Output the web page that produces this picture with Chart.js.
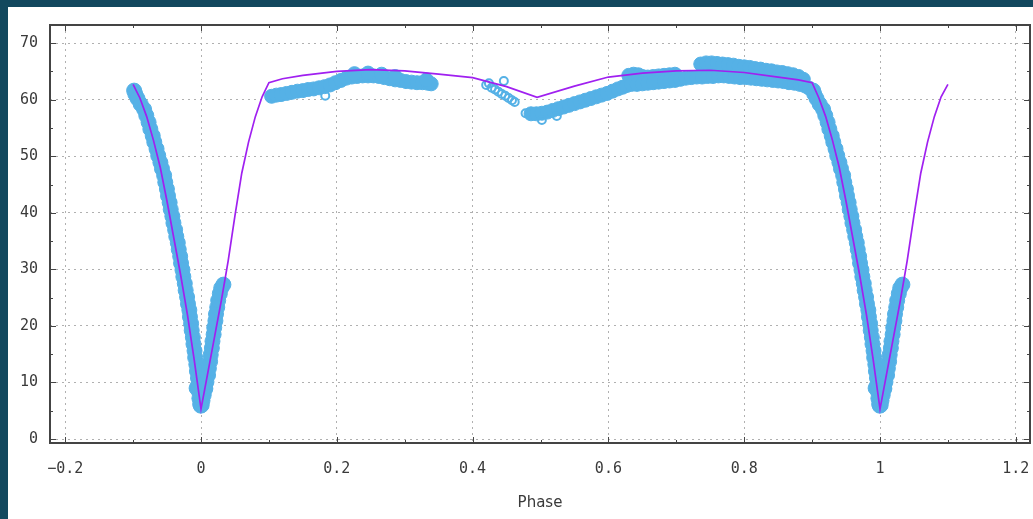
<!DOCTYPE html>
<html>
<head>
<meta charset="utf-8">
<title>Light curve</title>
<script src="https://cdn.jsdelivr.net/npm/chart.js@4.4.1/dist/chart.umd.min.js"></script>
<style>
  html, body { margin: 0; padding: 0; }
  body { width: 1033px; height: 519px; background: #12485e; position: relative; overflow: hidden; }
  #panel { position: absolute; left: 8px; top: 7px; right: 0; bottom: 0; background: #fff; }
  #lightCurve { position: absolute; left: 0; top: 0; }
</style>
</head>
<body>
<div id="panel"></div>
<canvas id="lightCurve" width="1033" height="519"></canvas>
<script>
// Axis ticks
const xTicks = [-0.2, 0, 0.2, 0.4, 0.6, 0.8, 1, 1.2];
const xLabels = ["\u22120.2", "0", "0.2", "0.4", "0.6", "0.8", "1", "1.2"];
const xMinor = [-0.1, 0.1, 0.3, 0.5, 0.7, 0.9, 1.1];
const yTicks = [0, 10, 20, 30, 40, 50, 60, 70];
const yMinor = [5, 15, 25, 35, 45, 55, 65];

// Observations around the primary minimum (folded, shown at phase 0 and again at phase 1)
const eclipsePhase = [-0.0985, -0.0968, -0.0935, -0.0888, -0.0838, -0.0806, -0.0772, -0.0746, -0.0711, -0.0688,
  -0.0655, -0.0630, -0.0598, -0.0575, -0.0543, -0.0526, -0.0502, -0.0486, -0.0462, -0.0446,
  -0.0422, -0.0406, -0.0381, -0.0364, -0.0342, -0.0328, -0.0307, -0.0294, -0.0273, -0.0260,
  -0.0239, -0.0226, -0.0205, -0.0192, -0.0172, -0.0163, -0.0146, -0.0137, -0.0120, -0.0111,
  -0.0095, -0.0086, -0.0069, -0.0060, -0.0045, -0.0041, -0.0029, -0.0024, -0.0012, -0.0004,
  -0.0065, 0.0060, 0.0010,
  0.0022, 0.0040, 0.0064, 0.0080, 0.0104, 0.0116, 0.0134, 0.0143, 0.0160, 0.0169,
  0.0186, 0.0195, 0.0212, 0.0221, 0.0239, 0.0253, 0.0277, 0.0298, 0.0330];
const eclipseMag = [61.6, 61.0, 60.2, 59.2, 58.3, 57.2, 56.0, 54.8, 53.6, 52.5,
  51.3, 50.1, 48.9, 47.8, 46.6, 45.4, 44.2, 43.0, 41.8, 40.6,
  39.4, 38.2, 37.0, 35.8, 34.7, 33.5, 32.3, 31.1, 29.9, 28.7,
  27.5, 26.3, 25.1, 23.9, 22.8, 21.6, 20.4, 19.2, 18.0, 16.8,
  15.6, 14.4, 13.2, 12.0, 10.8, 9.6, 8.4, 7.2, 6.2, 5.9,
  9.0, 9.2, 6.0,
  6.8, 7.8, 8.9, 10.1, 11.3, 12.5, 13.7, 14.9, 16.1, 17.3,
  18.5, 19.7, 20.9, 22.1, 23.3, 24.5, 25.7, 26.7, 27.3];

// Observations outside the eclipse (dense band)
const maxPhase = [0.104, 0.111, 0.118, 0.126, 0.134, 0.142, 0.150, 0.158, 0.166, 0.174,
  0.182, 0.190, 0.198, 0.206, 0.214, 0.222, 0.230, 0.238, 0.246, 0.254,
  0.262, 0.270, 0.278, 0.286, 0.294, 0.302, 0.310, 0.318, 0.326, 0.334, 0.339,
  0.226, 0.246, 0.266, 0.286, 0.332,
  0.486, 0.494, 0.502, 0.510, 0.518, 0.526, 0.534, 0.542, 0.550, 0.558,
  0.566, 0.574, 0.582, 0.590, 0.598, 0.606, 0.614, 0.621, 0.627,
  0.630, 0.637, 0.644, 0.650,
  0.658, 0.666, 0.674, 0.682, 0.690, 0.698,
  0.634, 0.642, 0.650, 0.658, 0.666, 0.674, 0.682, 0.690, 0.698, 0.706,
  0.714, 0.722, 0.730, 0.738, 0.746, 0.754, 0.762, 0.770, 0.778, 0.786,
  0.794, 0.802, 0.810, 0.818, 0.826, 0.834, 0.842, 0.850, 0.858, 0.866,
  0.874, 0.882, 0.890, 0.896,
  0.736, 0.744, 0.752, 0.760, 0.768, 0.776, 0.784, 0.792, 0.800, 0.808,
  0.816, 0.824, 0.832, 0.840, 0.848, 0.856, 0.864, 0.872, 0.880, 0.887];
const maxMag = [60.6, 60.8, 60.9, 61.1, 61.3, 61.5, 61.6, 61.8, 61.9, 62.1,
  62.3, 62.6, 63.0, 63.4, 63.8, 64.0, 64.1, 64.2, 64.2, 64.2,
  64.1, 63.9, 63.7, 63.5, 63.4, 63.2, 63.1, 63.0, 63.0, 62.9, 62.8,
  64.6, 64.7, 64.5, 64.1, 63.5,
  57.5, 57.5, 57.6, 57.8, 58.1, 58.4, 58.7, 59.0, 59.3, 59.6,
  59.9, 60.2, 60.5, 60.8, 61.1, 61.5, 61.9, 62.2, 62.5,
  64.3, 64.5, 64.4, 64.1,
  64.0, 64.1, 64.2, 64.3, 64.4, 64.5,
  62.7, 62.7, 62.8, 62.9, 63.0, 63.1, 63.2, 63.3, 63.4, 63.6,
  63.8, 63.9, 64.0, 64.0, 64.1, 64.1, 64.2, 64.2, 64.1, 64.0,
  63.9, 63.9, 63.8, 63.7, 63.6, 63.5, 63.4, 63.3, 63.2, 63.0,
  62.9, 62.7, 62.4, 62.0,
  66.3, 66.5, 66.5, 66.4, 66.3, 66.2, 66.1, 65.9, 65.8, 65.7,
  65.5, 65.4, 65.2, 65.1, 64.9, 64.8, 64.6, 64.4, 64.1, 63.6];

// Isolated observations (open circles)
const loosePhase = [0.183, 0.420, 0.424, 0.428, 0.433, 0.438, 0.443, 0.446, 0.448, 0.453, 0.458, 0.462, 0.478, 0.502, 0.524];
const looseMag = [60.7, 62.6, 62.9, 62.1, 61.8, 61.4, 61.0, 63.3, 60.7, 60.3, 59.9, 59.6, 57.6, 56.4, 57.1];

// Model curve
const modelPhase = [-0.1, -0.09, -0.08, -0.07, -0.06, -0.05, -0.04, -0.03, -0.02, -0.01,
  0, 0.01, 0.02, 0.03, 0.04, 0.05, 0.06, 0.07, 0.08, 0.09,
  0.1, 0.12, 0.15, 0.2, 0.25, 0.3, 0.35, 0.4, 0.45, 0.495,
  0.55, 0.6, 0.65, 0.7, 0.75, 0.8, 0.85, 0.88, 0.9, 0.91,
  0.92, 0.93, 0.94, 0.95, 0.96, 0.97, 0.98, 0.99, 1.0, 1.01,
  1.02, 1.03, 1.04, 1.05, 1.06, 1.07, 1.08, 1.09, 1.1];
const modelMag = [62.7, 60.3, 57.0, 52.8, 48.0, 42.0, 35.5, 29.0, 22.0, 14.0,
  5.3, 11.7, 18.1, 24.5, 31.5, 39.5, 47.0, 52.5, 57.0, 60.5,
  63.0, 63.7, 64.3, 65.0, 65.3, 65.1, 64.5, 63.9, 62.3, 60.4,
  62.4, 64.0, 64.7, 65.1, 65.2, 64.8, 64.0, 63.5, 63.0, 60.3,
  57.0, 52.8, 48.0, 42.0, 35.5, 29.0, 22.0, 14.0, 5.3, 11.7,
  18.1, 24.5, 31.5, 39.5, 47.0, 52.5, 57.0, 60.5, 62.7];

const dotColor = "#55b1e6";
const lineColor = "#a020f0";
const textColor = "#3a3a3a";

function toPoints(xs, ys, shift = 0) {
  return xs.map((p, i) => ({ x: p + shift, y: ys[i] }));
}

// gnuplot-like frame with inward tick marks on all sides
const frameTicks = {
  id: "frameTicks",
  afterDatasetsDraw(chart) {
    const { ctx, chartArea: a, scales: { x, y } } = chart;
    ctx.save();
    ctx.strokeStyle = "#444";
    ctx.lineWidth = 1;
    ctx.beginPath();
    const vTick = (v, len) => {
      const px = Math.round(x.getPixelForValue(v)) + 0.5;
      ctx.moveTo(px, a.bottom); ctx.lineTo(px, a.bottom - len);
      ctx.moveTo(px, a.top); ctx.lineTo(px, a.top + len);
    };
    const hTick = (v, len) => {
      const py = Math.round(y.getPixelForValue(v)) + 0.5;
      ctx.moveTo(a.left, py); ctx.lineTo(a.left + len, py);
      ctx.moveTo(a.right, py); ctx.lineTo(a.right - len, py);
    };
    xTicks.forEach(v => vTick(v, 6));
    xMinor.forEach(v => vTick(v, 3));
    yTicks.forEach(v => hTick(v, 6));
    yMinor.forEach(v => hTick(v, 3));
    ctx.stroke();
    ctx.lineWidth = 2;
    ctx.strokeRect(a.left, a.top, a.right - a.left, a.bottom - a.top);
    ctx.restore();
  }
};

const ctx = document.getElementById("lightCurve").getContext("2d");
new Chart(ctx, {
  type: "scatter",
  data: {
    datasets: [
      {
        label: "Model",
        data: toPoints(modelPhase, modelMag),
        showLine: true,
        borderColor: lineColor,
        borderWidth: 1.7,
        pointRadius: 0,
        tension: 0,
        fill: false
      },
      {
        label: "Isolated",
        data: toPoints(loosePhase, looseMag),
        pointRadius: 4,
        pointBorderWidth: 2,
        borderColor: dotColor,
        backgroundColor: "rgba(0,0,0,0)"
      },
      {
        label: "Maximum",
        data: toPoints(maxPhase, maxMag),
        pointRadius: 7,
        pointBorderWidth: 1,
        borderColor: dotColor,
        backgroundColor: dotColor
      },
      {
        label: "Eclipse",
        data: toPoints(eclipsePhase, eclipseMag).concat(toPoints(eclipsePhase, eclipseMag, 1)),
        pointRadius: 7.5,
        pointBorderWidth: 1,
        borderColor: dotColor,
        backgroundColor: dotColor
      }
    ]
  },
  options: {
    responsive: false,
    animation: false,
    devicePixelRatio: 1,
    layout: { autoPadding: false, padding: { left: 0, top: 25, right: 3, bottom: 0 } },
    plugins: {
      legend: { display: false },
      tooltip: { enabled: false }
    },
    scales: {
      x: {
        type: "linear",
        min: -0.2224,
        max: 1.2209,
        afterBuildTicks: s => { s.ticks = xTicks.map(v => ({ value: v })); },
        afterFit: s => { s.height = 76; s.paddingLeft = 0; s.paddingRight = 0; },
        grid: { color: "#b0b0b0", lineWidth: 1, drawTicks: false },
        border: { display: false, dash: [2, 4] },
        ticks: {
          padding: 17,
          maxRotation: 0,
          autoSkip: false,
          color: textColor,
          font: { family: "DejaVu Sans Mono", size: 15 },
          callback: (v, i) => xLabels[i]
        },
        title: {
          display: true,
          text: "Phase",
          color: textColor,
          font: { family: "DejaVu Sans", size: 15 },
          padding: { top: 0, bottom: 7 }
        }
      },
      y: {
        type: "linear",
        min: -0.7,
        max: 73.2,
        afterBuildTicks: s => { s.ticks = yTicks.map(v => ({ value: v })); },
        afterFit: s => { s.width = 50; s.paddingTop = 0; s.paddingBottom = 0; },
        grid: { color: "#b0b0b0", lineWidth: 1, drawTicks: false },
        border: { display: false, dash: [2, 4] },
        ticks: {
          padding: 12,
          autoSkip: false,
          color: textColor,
          font: { family: "DejaVu Sans Mono", size: 15 },
          callback: v => String(v)
        }
      }
    }
  },
  plugins: [frameTicks]
});
</script>
</body>
</html>
